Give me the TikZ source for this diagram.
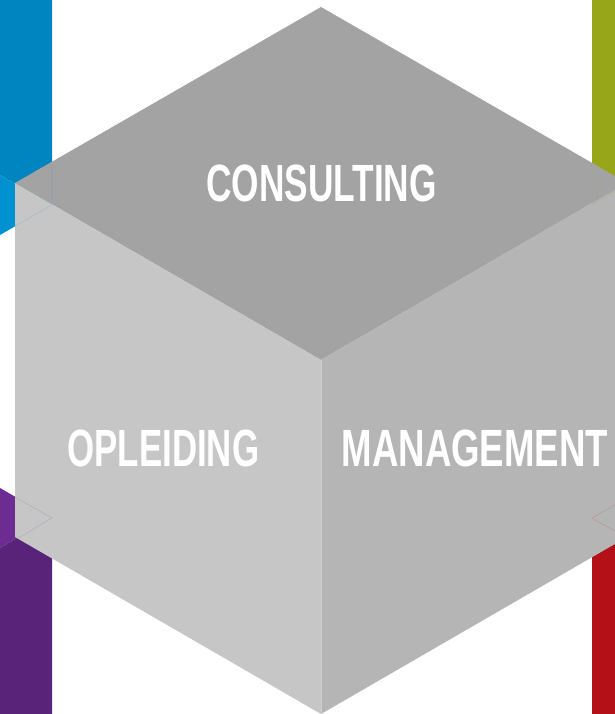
\documentclass[tikz,border=0pt]{standalone}
\usepackage{fontspec}
\setmainfont{Liberation Sans}
\definecolor{bluedark}{RGB}{0,133,192}
\definecolor{bluelight}{RGB}{0,146,208}
\definecolor{greenbar}{RGB}{151,165,25}
\definecolor{purplelight}{RGB}{108,44,145}
\definecolor{purpledark}{RGB}{88,35,120}
\definecolor{redbar}{RGB}{180,16,24}
\definecolor{topface}{RGB}{163,163,163}
\definecolor{leftface}{RGB}{198,198,198}
\definecolor{rightface}{RGB}{181,181,181}
\begin{document}
\begin{tikzpicture}[x=1pt,y=-1pt,
  label text/.style={text=white,inner sep=0pt,font=\bfseries\fontsize{52.4}{60}\selectfont},
  ghost/.style={line width=0.5pt,draw opacity=0.2}]
\useasboundingbox (0,0) rectangle (615,714);
% colour bars
\fill[bluedark] (0,0) -- (52,0) -- (52,205) -- (0,175) -- cycle;
\fill[bluelight] (0,175) -- (52,205) -- (0,235) -- cycle;
\fill[greenbar] (592,0) -- (644,0) -- (644,235) -- (592,205) -- cycle;
\fill[purplelight] (0,488) -- (52,518) -- (0,548) -- cycle;
\fill[purpledark] (0,548) -- (52,518) -- (52,714) -- (0,714) -- cycle;
\fill[redbar] (592,518) -- (644,548) -- (644,714) -- (592,714) -- cycle;
% cube
\fill[topface] (321,7) -- (627,183) -- (321,360) -- (15,183) -- cycle;
\fill[leftface] (15,183) -- (321,360) -- (321,714) -- (15,537) -- cycle;
\fill[rightface] (321,360) -- (627,183) -- (627,537) -- (321,714) -- cycle;
\draw[white,line width=0.6pt,draw opacity=0.35] (321,360) -- (321,714);
% faint edges of the bars seen through the cube
\draw[ghost,bluelight] (52,165) -- (52,205) -- (15,226);
\draw[ghost,greenbar] (592,165) -- (592,205) -- (627,185);
\draw[ghost,purplelight] (15,497) -- (52,518) -- (15,540);
\draw[ghost,redbar] (615,505) -- (592,518) -- (615,531);
% labels
\node[label text] (consulting) at (321.5,183) {\scalebox{0.673}[1]{CONSULTING}};
\node[label text] (opleiding) at (163.4,448.5) {\scalebox{0.665}[1]{OPLEIDING}};
\node[label text] (management) at (474.9,448.5) {\scalebox{0.699}[1]{MANAGEMENT}};
\end{tikzpicture}
\end{document}
